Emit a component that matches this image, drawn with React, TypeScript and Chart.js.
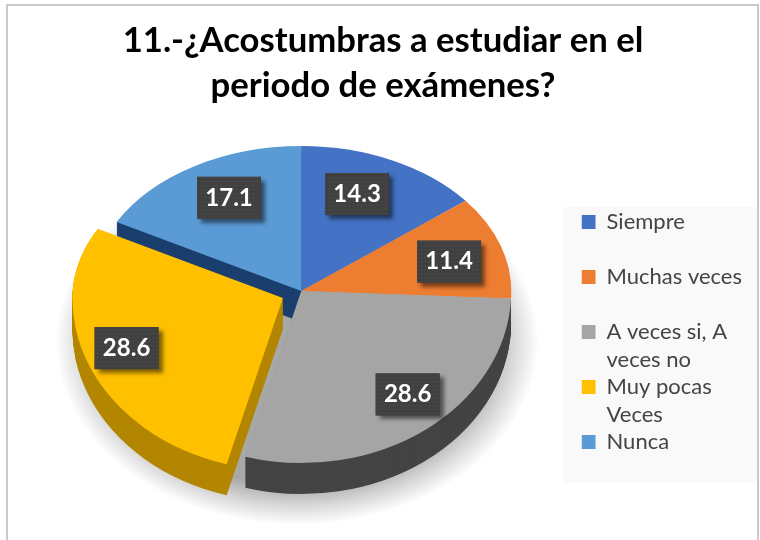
import React, { useEffect, useRef } from "react";
import { Chart, registerables } from "chart.js";

Chart.register(...registerables);

const titleLines = ["11.-¿Acostumbras a estudiar en el", "periodo de exámenes?"];
const categories = [
  ["Siempre", ""],
  ["Muchas veces", ""],
  ["A veces si, A", "veces no"],
  ["Muy pocas", "Veces"],
  ["Nunca", ""],
];
const values = [14.3, 11.4, 28.6, 28.6, 17.1];
const sliceColors = ["#4472C4", "#ED7D31", "#A5A5A5", "#FFC000", "#5B9BD5"];
const wallColors = ["#2F5597", "#B85F1F", "#444444", "#B38600", "#1B3F6E"];
const sliceOffsets = [0, 0, 0, 80, 0];
const labelNudges = [[-8, -5.5], [8, 2], [20, 6], [-21, 3], [3, -6]];

const TOP_SQUASH = 145 / 210;
const BOTTOM_SQUASH = 172 / 210;
const DEPTH = 31;
const FONT = "Lato";

function apexOf(arc: any) {
  const half = (arc.startAngle + arc.endAngle) / 2;
  const off = (arc.options.offset || 0) / 4;
  const oy = Math.sin(half) * off;
  return { rawY: arc.y + oy, outY: Math.round(arc.y + oy * 0.9) };
}

function drawProjected(ctx: CanvasRenderingContext2D, arc: any, dy: number) {
  const { rawY, outY } = apexOf(arc);
  const seam = outY + dy;
  for (const upper of [true, false]) {
    ctx.save();
    ctx.beginPath();
    if (upper) ctx.rect(0, 0, 760, seam);
    else ctx.rect(0, seam, 760, 540 - seam);
    ctx.clip();
    ctx.translate(0, seam);
    ctx.scale(1, upper ? TOP_SQUASH : BOTTOM_SQUASH);
    ctx.translate(0, -rawY);
    arc.draw(ctx);
    ctx.restore();
  }
}

function withColor(arc: any, color: string, fn: () => void) {
  const original = arc.options;
  arc.options = Object.assign(Object.create(original), { backgroundColor: color });
  fn();
  arc.options = original;
}

function drawWall(ctx: CanvasRenderingContext2D, arc: any, color: string, rimOnly: boolean) {
  ctx.save();
  if (rimOnly) {
    const { outY } = apexOf(arc);
    const ex = arc.x + Math.cos(arc.endAngle) * arc.outerRadius;
    const ey = outY + Math.sin(arc.endAngle) * arc.outerRadius * BOTTOM_SQUASH;
    ctx.beginPath();
    ctx.moveTo(arc.x, outY);
    ctx.lineTo(ex, ey);
    ctx.lineTo(ex, 540);
    ctx.lineTo(760, 540);
    ctx.lineTo(760, outY);
    ctx.closePath();
    ctx.clip();
  }
  withColor(arc, color, () => {
    for (let d = DEPTH; d >= 1; d--) drawProjected(ctx, arc, d);
  });
  ctx.restore();
}

function drawCastShadow(ctx: CanvasRenderingContext2D, arc: any) {
  const r = arc.outerRadius;
  ctx.save();
  ctx.translate(arc.x - 0.02 * r, arc.y + 0.24 * r);
  ctx.scale(1, 0.76);
  const g = ctx.createRadialGradient(0, 0, r * 0.9, 0, 0, r * 1.15);
  g.addColorStop(0, "rgba(0,0,0,0.34)");
  g.addColorStop(0.5, "rgba(0,0,0,0.16)");
  g.addColorStop(1, "rgba(0,0,0,0)");
  ctx.fillStyle = g;
  ctx.beginPath();
  ctx.arc(0, 0, r * 1.15, 0, Math.PI * 2);
  ctx.fill();
  ctx.restore();
}

const pie3d = {
  id: "pie3d",
  afterLayout(chart: any) {
    chart.titleBlock.right -= 7;
  },
  beforeDraw(chart: any) {
    const { ctx } = chart;
    ctx.save();
    ctx.fillStyle = "#ffffff";
    ctx.fillRect(0, 0, 760, 540);
    ctx.strokeStyle = "#c9c9c9";
    ctx.lineWidth = 2;
    ctx.strokeRect(7, 5, 751, 560);
    const hit = chart.legend.legendHitBoxes;
    if (hit && hit.length) {
      const last = hit[hit.length - 1];
      ctx.fillStyle = "#f9f9f9";
      ctx.fillRect(563, hit[0].top - 4, 194, last.top + last.height - hit[0].top + 1);
    }
    ctx.restore();
  },
  beforeDatasetDraw(chart: any) {
    const { ctx } = chart;
    const arcs = chart.getDatasetMeta(0).data;
    drawCastShadow(ctx, arcs[0]);
    drawWall(ctx, arcs[4], wallColors[4], false);
    drawWall(ctx, arcs[2], wallColors[2], true);
    [0, 1, 2, 4].forEach((i) => drawProjected(ctx, arcs[i], 0));
    drawWall(ctx, arcs[3], wallColors[3], false);
    drawProjected(ctx, arcs[3], 0);
    return false;
  },
  afterDatasetsDraw(chart: any) {
    const { ctx } = chart;
    const arcs = chart.getDatasetMeta(0).data;
    const cell = document.createElement("canvas");
    cell.width = 4;
    cell.height = 4;
    const c = cell.getContext("2d") as CanvasRenderingContext2D;
    c.fillStyle = "#404040";
    c.fillRect(0, 0, 4, 4);
    c.fillStyle = "#565656";
    c.fillRect(1, 1, 1, 1);
    const pattern = ctx.createPattern(cell, "repeat");
    arcs.forEach((arc: any, i: number) => {
      const mid = (arc.startAngle + arc.endAngle) / 2;
      const { outY } = apexOf(arc);
      const sin = Math.sin(mid);
      const off = (arc.options.offset || 0) / 4;
      const px = arc.x + Math.cos(mid) * off + Math.cos(mid) * arc.outerRadius * 0.7 + labelNudges[i][0];
      const py = outY + sin * arc.outerRadius * 0.7 * (sin < 0 ? TOP_SQUASH : BOTTOM_SQUASH) + labelNudges[i][1];
      ctx.save();
      ctx.shadowColor = "rgba(0,0,0,0.5)";
      ctx.shadowBlur = 4;
      ctx.shadowOffsetX = 4;
      ctx.shadowOffsetY = 4;
      ctx.fillStyle = "#404040";
      ctx.fillRect(px - 32, py - 21, 64, 42);
      ctx.shadowColor = "transparent";
      ctx.fillStyle = pattern;
      ctx.fillRect(px - 32, py - 21, 64, 42);
      ctx.fillStyle = "#ffffff";
      ctx.font = `bold 24px ${FONT}`;
      ctx.textAlign = "center";
      ctx.textBaseline = "middle";
      ctx.fillText(values[i].toFixed(1), px, py);
      ctx.restore();
    });
  },
};

export default function App() {
  const ref = useRef<HTMLCanvasElement>(null);
  useEffect(() => {
    const chart = new Chart(ref.current as HTMLCanvasElement, {
      type: "pie",
      data: {
        labels: categories as any,
        datasets: [
          {
            data: values,
            backgroundColor: sliceColors,
            borderWidth: 0,
            offset: sliceOffsets,
            radius: 210,
          } as any,
        ],
      },
      options: {
        responsive: false,
        animation: false,
        layout: { padding: { left: 21, right: 8, top: 0, bottom: 54 } },
        plugins: {
          tooltip: { enabled: false },
          title: {
            display: true,
            text: titleLines,
            color: "#000000",
            font: { family: FONT, weight: "bold", size: 34.7, lineHeight: "45px" },
            padding: { top: 18, bottom: -12 },
          },
          legend: {
            display: true,
            position: "right",
            align: "end",
            fullSize: false,
            labels: {
              boxWidth: 14,
              boxHeight: 14,
              padding: 0,
              color: "#444444",
              font: { family: FONT, size: 22, lineHeight: "27.5px" },
            },
          },
        },
      } as any,
      plugins: [pie3d as any],
    });
    return () => chart.destroy();
  }, []);
  return (
    <div style={{ position: "absolute", left: 0, top: 0, width: 760, height: 540 }}>
      <canvas ref={ref} width={760} height={540} style={{ display: "block" }} />
    </div>
  );
}
